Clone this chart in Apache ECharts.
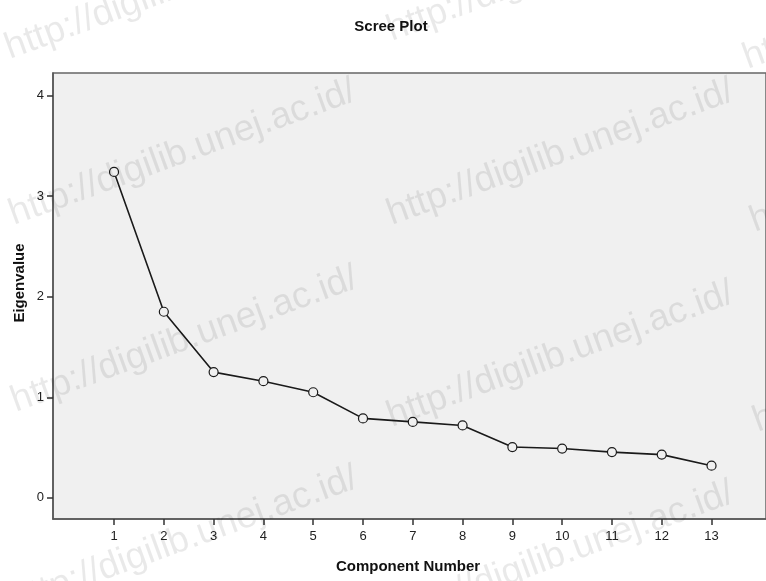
<!DOCTYPE html>
<html>
<head>
<meta charset="utf-8">
<script src="https://cdn.jsdelivr.net/npm/echarts@6/dist/echarts.min.js"></script>
<style>html,body{margin:0;padding:0;background:#fff}#c{width:766px;height:581px}</style>
</head>
<body>
<div id="c"></div>
<script>
var components = [1,2,3,4,5,6,7,8,9,10,11,12,13];
var eigenvalues = [3.24,1.85,1.25,1.16,1.05,0.79,0.755,0.72,0.505,0.49,0.455,0.43,0.32];
var yTicks = [0,1,2,3,4];
var titleText = 'Scree Plot';
var xName = 'Component Number';
var yName = 'Eigenvalue';
var watermark = 'http://digilib.unej.ac.id/';

var font = '"Liberation Sans", Arial, sans-serif';
var wmStyle = {fill:'rgba(0,0,0,0.085)', font:'37px ' + font, textAlign:'left', textVerticalAlign:'alphabetic'};
var rot = 20 * Math.PI / 180;
var wmPos = [[0,32],[4,198],[6,385],[6,585],[382,14],[382,198],[382,400],[382,600],[738,42],[745,205],[748,405],[748,600]];
var graphics = wmPos.map(function(p){
  return {type:'text', x:p[0], y:p[1], rotation:rot, z:100, silent:true, style:Object.assign({text:watermark}, wmStyle)};
});
graphics.push({type:'text', x:408, y:567, z:10, style:{text:xName, fill:'#111', font:'bold 15px ' + font, textAlign:'center', textVerticalAlign:'middle'}});
graphics.push({type:'text', x:20, y:283, rotation:Math.PI/2, z:10, style:{text:yName, fill:'#111', font:'bold 15px ' + font, textAlign:'center', textVerticalAlign:'middle'}});

var chart = echarts.init(document.getElementById('c'), null, {renderer:'canvas'});
chart.setOption({
  animation:false,
  backgroundColor:'#fff',
  title:{text:titleText, left:386, top:14, textAlign:'center', textStyle:{fontFamily:font, fontWeight:'bold', fontSize:15, color:'#111'}},
  grid:{left:53, top:73, bottom:62, right:-3, show:true, backgroundColor:'#f0f0f0', borderColor:'#666', borderWidth:1.5},
  xAxis:{type:'value', min:-0.226, max:14.094, splitLine:{show:false},
    axisLine:{show:true, onZero:false, lineStyle:{color:'#555', width:1.5}},
    axisTick:{show:true, inside:false, length:6, lineStyle:{color:'#333', width:1.5}, customValues:components},
    axisLabel:{customValues:components, color:'#222', fontSize:13, fontFamily:font, margin:11}},
  yAxis:{type:'value', min:-0.21, max:4.223, splitLine:{show:false},
    axisLine:{show:true, onZero:false, lineStyle:{color:'#555', width:1.5}},
    axisTick:{show:true, inside:false, length:6, lineStyle:{color:'#333', width:1.5}, customValues:yTicks},
    axisLabel:{customValues:yTicks, color:'#222', fontSize:13, fontFamily:font, margin:9}},
  series:[{type:'line', data:components.map(function(c,i){return [c, eigenvalues[i]];}),
    symbol:'circle', symbolSize:9, showSymbol:true,
    lineStyle:{color:'#1a1a1a', width:1.6},
    itemStyle:{color:'#f0f0f0', borderColor:'#1a1a1a', borderWidth:1.2}}],
  graphic:graphics
});
</script>
</body>
</html>
